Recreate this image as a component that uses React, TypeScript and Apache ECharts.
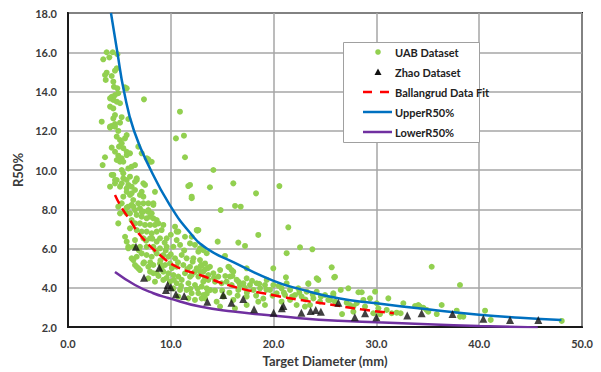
import React, { useEffect, useRef } from "react";
import * as echarts from "echarts";

const xTitle = "Target Diameter (mm)";
const yTitle = "R50%";
const seriesNames = ["UAB Dataset", "Zhao Dataset", "Ballangrud Data Fit", "UpperR50%", "LowerR50%"];

const uabData: number[][] = [
  [3.76,16.0],[4.35,16.0],[4.8,15.9],[3.43,15.64],[4.02,15.74],
  [4.74,15.18],[4.57,15.06],[3.76,14.96],[3.6,14.84],[4.25,14.79],[3.67,14.59],[4.41,14.5],[4.47,14.24],[4.8,14.16],[5.71,14.16],[5.54,14.21],
  [4.25,13.73],[4.41,13.57],[4.09,13.65],[4.57,13.82],[4.89,13.91],[4.74,13.48],[5.06,13.4],[4.09,13.23],[4.41,13.14],[7.39,13.6],
  [4.57,12.8],[4.41,12.63],[5.22,12.69],[5.87,12.6],[3.28,12.46],[4.25,12.24],[4.09,12.16],[4.57,12.34],[5.06,12.41],[10.89,12.97],
  [10.5,11.61],[11.28,11.75],[11.38,10.65],[7.81,10.54],[8.14,10.42],[3.37,10.25],
  [4.09,12.21],[4.57,12.21],[4.89,11.99],[4.74,11.7],[5.06,11.53],[5.22,11.36],[5.54,11.61],[5.71,11.78],[4.96,11.19],[5.38,11.11],
  [5.71,10.93],[4.25,11.14],[4.57,10.93],[4.89,10.73],[5.22,10.6],[5.06,10.42],[5.38,10.42],[4.74,10.51],[3.6,10.65],[5.71,10.76],
  [6.03,10.85],[6.84,11.19],[7.17,10.85],[7.66,10.6],[7.98,10.42],[6.19,10.17],[6.52,10.25],[5.87,10.08],[5.22,10.0],[4.41,9.75],
  [4.57,9.32],[4.09,9.15],[5.06,9.15],[4.74,9.49],[5.38,9.58],[5.71,9.49],[5.87,9.24],[6.19,9.15],[6.52,8.98],[5.71,8.89],
  [6.03,8.73],[5.38,8.64],[6.52,9.4],[6.68,9.58],[7.49,9.24],[7.17,8.89],[7.33,8.64],[8.46,8.89],[7.81,8.3],[8.3,8.22],
  [6.84,8.3],[6.35,8.47],[6.19,8.22],[5.87,8.13],[6.52,7.96],[7.17,7.87],[7.81,7.87],
  [4.25,9.75],[4.57,9.49],[5.22,9.32],[5.38,9.83],[6.03,9.66],[6.68,9.49],[7.33,9.32],[5.71,9.07],[6.19,8.81],[7.0,8.73],
  [7.33,8.3],[8.3,8.3],[7.98,7.62],[8.63,7.45],[5.22,8.3],[5.71,7.79],[4.89,7.28],[10.41,7.11],[10.57,6.43],[10.73,6.86],
  [11.7,9.18],[12.03,8.56],[12.52,6.94],
  [6.36,5.41],[7.0,4.9],[6.68,5.07],[5.87,6.01],[5.71,6.35],[7.81,4.48],[8.46,4.31],[8.3,4.74],
  [4.89,8.13],[5.71,8.08],[6.36,8.13],[7.0,8.05],[7.33,7.88],[7.81,7.96],[8.14,7.79],[8.3,7.54],[7.65,7.54],[7.17,7.62],
  [6.68,7.71],[6.03,7.79],[5.55,7.88],[5.06,7.79],[6.19,7.45],[6.52,7.28],[7.0,7.28],[7.49,7.2],[7.98,7.2],[8.46,7.2],
  [8.79,7.28],[9.27,7.2],[9.11,6.94],[8.63,6.86],[8.14,6.77],[7.65,6.86],[7.17,6.86],[6.68,6.94],[6.03,7.03],[5.55,6.6],
  [6.52,6.43],[7.33,6.52],[7.98,6.52],[8.63,6.35],[8.95,6.52],[9.6,6.52],[10.57,6.86],[11.38,6.6],[12.03,6.6],[12.68,6.94],
  [11.87,6.26],[12.35,6.18],[12.84,6.01],[13.16,5.92],[10.9,6.18],[10.25,6.09],[9.6,6.09],[8.95,6.01],[8.3,6.09],[7.65,6.09],
  [7.0,6.09],[6.36,6.09],[5.87,6.09],[6.19,5.5],[6.68,5.58],[7.17,5.75],[7.65,5.67],[8.14,5.58],[8.63,5.75],[9.27,5.67],
  [9.76,5.58],[10.41,5.5],[11.06,5.67],[11.54,5.5],[12.19,5.5],[12.84,5.41],[13.33,5.24],[6.52,5.16],[6.84,4.99],[7.33,5.24],
  [7.81,5.07],[8.3,5.16],[8.95,5.24],[9.44,5.16],[9.92,5.24],[10.57,5.07],[11.22,5.16],[11.87,5.07],[12.52,4.99],[13.16,4.82],
  [13.65,4.65],[7.98,4.82],[8.63,4.74],[9.27,4.82],[9.76,4.74],[10.25,4.65],[10.73,4.57],[11.38,4.74],[12.03,4.65],[12.68,4.57],
  [13.33,4.48],[9.27,4.4],[9.92,4.31],[10.57,4.23],[11.06,4.4],[11.71,4.23],[12.35,4.14],[13.0,4.06],[13.49,3.97],[10.25,3.97],
  [10.9,3.89],[11.54,3.89],[12.03,3.72],[12.68,3.72],[13.16,3.63],[10.73,3.55],[11.71,3.46],[12.35,3.38],[13.0,3.46],
  [11.87,9.24],[12.03,8.64],[13.81,9.12],[16.08,9.32],[18.29,8.81],[20.56,9.18],[14.14,10.0],[16.25,8.17],[16.8,8.13],[14.85,7.96],
  [12.58,6.91],[14.56,6.35],[16.57,6.3],[17.22,6.13],[18.51,6.69],[21.43,7.08],[21.27,5.76],[22.57,6.06],[23.77,5.96],[12.68,5.84],
  [13.49,5.76],[15.27,5.62],[12.13,5.33],[13.0,5.16],[13.33,4.94],[15.69,5.04],[15.92,4.9],[17.38,4.99],[19.97,4.99],[21.2,4.53],
  [25.65,5.04],[25.9,4.53],[24.19,4.48],[23.38,4.19],[11.87,4.56],
  [12.84,4.82],[13.81,5.07],[14.14,4.74],[13.65,4.4],[13.16,4.31],[14.3,4.31],[14.62,4.57],[14.95,4.23],[15.6,5.07],[16.08,4.82],
  [15.76,4.57],[15.43,4.31],[15.92,4.14],[16.41,4.4],[16.73,4.14],[16.57,3.89],[17.06,4.23],[17.38,4.48],[17.7,4.14],[18.03,3.89],
  [18.35,4.23],[18.68,3.97],[19.16,4.14],[19.33,4.4],[19.65,3.89],[19.97,4.14],[20.3,3.72],[20.78,3.97],[21.11,3.63],[21.27,4.23],
  [21.6,3.89],[22.08,3.63],[22.4,3.97],[22.73,3.55],[23.22,3.8],[23.38,4.23],[23.87,3.46],[24.19,3.8],[24.35,4.4],[24.51,3.29],
  [25.0,3.63],[25.32,3.38],[25.81,3.63],[14.46,3.29],[15.11,3.55],[14.79,3.04],[16.08,3.38],[17.38,3.55],[18.51,3.29],[19.16,3.12],
  [17.38,3.12],[16.24,2.95],[20.78,3.29],[21.6,3.38],[22.24,3.12],[23.05,3.04],[23.54,3.12],[13.33,3.46],[13.81,3.88],
  [25.97,4.56],[35.38,5.07],[38.13,4.14],[25.81,3.72],[26.53,3.89],[27.27,3.97],[28.25,3.77],[28.57,3.77],[29.87,3.8],[25.49,3.38],
  [25.97,3.29],[27.11,3.24],[27.44,3.12],[27.76,3.04],[28.08,3.21],[28.73,3.38],[29.38,3.46],[28.89,3.04],[30.03,3.21],[30.19,2.95],
  [29.7,2.7],[30.35,2.66],[26.66,2.66],[27.76,2.78],[31.16,3.46],[31.0,2.87],[31.49,2.7],[31.97,2.73],[32.36,2.7],[32.62,3.21],
  [33.76,3.07],[34.24,3.04],[34.57,2.98],[35.05,2.78],[35.87,2.66],[36.35,3.12],[37.81,2.83],[38.13,2.53],[38.46,2.53],[40.57,2.83],
  [41.12,2.36],[48.03,2.31],[34.08,3.12],[34.89,2.87],
  [8.5,5.9],[9.0,5.4],[9.5,5.9],[10.0,5.7],[10.7,5.3],[11.3,5.9],[11.6,4.95],[12.3,4.8],[12.9,5.1],[13.6,5.0],
  [14.2,4.5],[14.8,4.9],[15.3,4.6],[16.0,4.6],[16.6,4.3],[17.2,4.0],[17.9,4.35],[18.6,4.2],[19.3,3.9],[19.9,3.6],
  [20.5,4.1],[21.0,3.75],[21.8,3.55],[22.5,3.75],[23.1,3.4],[23.8,3.65],[24.6,3.55],[8.8,4.6],[9.6,4.5],[10.3,4.4],
  [11.0,4.1],[11.9,3.95],[12.6,3.95],[13.5,3.7],[14.3,3.85],[15.0,3.85],[15.7,3.75],[16.5,3.6],[17.4,3.75],[18.3,3.6],
  [19.0,3.45],[7.6,6.4],[8.2,6.5],[9.4,6.3],[10.0,6.7],[6.9,5.9],[7.4,5.3],[8.0,5.3],[9.1,5.0],[10.1,5.0]
];

const zhaoData: number[][] = [
  [6.61,6.09],[8.88,5.02],[7.39,4.51],[9.7,4.14],[10.0,4.02],[9.53,3.89],[10.5,3.67],[11.3,3.58],
  [13.55,3.29],[15.1,3.63],[15.9,3.24],[17.05,3.43],[18.1,2.9],[20.0,2.73],[20.8,2.95],[20.95,3.07],
  [22.7,2.73],[23.6,2.82],[24.1,2.87],[24.6,2.78],[26.3,3.24],[27.9,2.5],[28.9,2.7],[30.0,2.5],
  [33.0,2.58],[34.4,2.7],[37.4,2.66],[40.4,2.42],[43.0,2.36],[45.75,2.36]
];

const fitData: number[][] = [
  [4.57,8.73],[5.2,8.1],[6.03,7.45],[7.0,6.69],[8.95,5.67],[10.57,5.07],[12.84,4.65],
  [16.08,4.06],[20,3.62],[22.57,3.38],[25.81,3.12],[28.5,2.9],[31.7,2.7]
];

const upperData: number[][] = [
  [4.18,18],[4.8,16],[5.45,14],[6.42,12],[8.05,10],[9.92,8.2],[11.87,6.8],[13.5,6.0],
  [16.08,5.3],[20,4.35],[22.57,3.93],[26.3,3.46],[30,3.21],[35,2.9],[40,2.62],[44,2.47],[48,2.36]
];

const lowerData: number[][] = [
  [4.57,4.8],[6.52,4.14],[8.3,3.72],[9.76,3.48],[12.84,3.04],[16.08,2.79],[19.33,2.61],
  [22.57,2.45],[26.3,2.32],[30,2.24],[35,2.14],[40,2.05],[45.7,1.97]
];

const FONT = "Lato";
const LABEL_COLOR = "#3a3a3a";
const GREEN = "#92d050";
const BLACK = "#111111";
const RED = "#ff0000";
const BLUE = "#0070c0";
const PURPLE = "#7030a0";

function legendGraphic() {
  const bx = 343, by = 42, bw = 136, bh = 100;
  const ix0 = 363, ix1 = 392, icx = 378, tx = 395;
  const rowY = (i: number) => by + 10 + i * 20;
  const textEl = (i: number) => ({
    type: "text", x: tx, y: rowY(i), z: 101,
    style: { text: seriesNames[i], font: `bold 11px ${FONT}`, fill: "#222222", verticalAlign: "middle", align: "left" }
  });
  return [
    { type: "rect", z: 100, shape: { x: bx + 0.5, y: by + 0.5, width: bw, height: bh }, style: { fill: "#ffffff", stroke: "#a0a0a0", lineWidth: 1 } },
    { type: "circle", z: 101, shape: { cx: icx, cy: rowY(0), r: 2.8 }, style: { fill: GREEN } },
    { type: "polygon", z: 101, shape: { points: [[icx - 3.5, rowY(1) + 3], [icx + 3.5, rowY(1) + 3], [icx, rowY(1) - 3.5]] }, style: { fill: BLACK } },
    { type: "line", z: 101, shape: { x1: ix0, y1: rowY(2), x2: ix1, y2: rowY(2) }, style: { stroke: RED, lineWidth: 2.5, lineDash: [9, 8] } },
    { type: "line", z: 101, shape: { x1: ix0, y1: rowY(3), x2: ix1, y2: rowY(3) }, style: { stroke: BLUE, lineWidth: 2.5 } },
    { type: "line", z: 101, shape: { x1: ix0, y1: rowY(4), x2: ix1, y2: rowY(4) }, style: { stroke: PURPLE, lineWidth: 2.5 } },
    textEl(0), textEl(1), textEl(2), textEl(3), textEl(4)
  ];
}

export default function App() {
  const ref = useRef<HTMLDivElement>(null);
  useEffect(() => {
    const chart = echarts.init(ref.current!, null, { renderer: "svg" });
    chart.setOption({
      animation: false,
      backgroundColor: "#ffffff",
      grid: {
        left: 68, right: 19, top: 13, bottom: 45,
        show: true, borderColor: "#1a1a1a", borderWidth: 2, backgroundColor: "transparent"
      },
      graphic: legendGraphic(),
      xAxis: {
        type: "value", min: 0, max: 50, interval: 10,
        name: xTitle, nameLocation: "middle", nameGap: 27,
        nameTextStyle: { fontFamily: FONT, fontWeight: "bold", fontSize: 13, color: LABEL_COLOR },
        axisLine: { show: true, lineStyle: { color: "#1a1a1a", width: 2 } },
        axisTick: { show: false },
        axisLabel: { formatter: (v: number) => v.toFixed(1), fontFamily: FONT, fontWeight: "bold", fontSize: 11, color: LABEL_COLOR, margin: 11 },
        splitLine: { show: true, lineStyle: { color: "#a6a6a6", width: 1.5 } }
      },
      yAxis: {
        type: "value", min: 2, max: 18, interval: 2,
        name: yTitle, nameLocation: "middle", nameGap: 34,
        nameTextStyle: { fontFamily: FONT, fontWeight: "bold", fontSize: 13, color: LABEL_COLOR },
        axisLine: { show: true, lineStyle: { color: "#1a1a1a", width: 2 } },
        axisTick: { show: false },
        axisLabel: { formatter: (v: number) => v.toFixed(1), fontFamily: FONT, fontWeight: "bold", fontSize: 11, color: LABEL_COLOR, margin: 11 },
        splitLine: { show: true, lineStyle: { color: "#a6a6a6", width: 1.5 } }
      },
      series: [
        {
          name: seriesNames[0], type: "scatter", data: uabData, symbol: "circle", symbolSize: 6,
          itemStyle: { color: GREEN, opacity: 1 }, z: 2
        },
        {
          name: seriesNames[1], type: "scatter", data: zhaoData, symbol: "triangle", symbolSize: 8,
          itemStyle: { color: BLACK }, z: 6
        },
        {
          name: seriesNames[2], type: "line", data: fitData, smooth: true, symbol: "none",
          lineStyle: { color: RED, width: 2.5, type: [10, 5] }, itemStyle: { color: RED }, z: 4
        },
        {
          name: seriesNames[3], type: "line", data: upperData, smooth: true, symbol: "none",
          lineStyle: { color: BLUE, width: 2.5 }, itemStyle: { color: BLUE }, z: 4
        },
        {
          name: seriesNames[4], type: "line", data: lowerData, smooth: true, symbol: "none",
          lineStyle: { color: PURPLE, width: 2.5 }, itemStyle: { color: PURPLE }, z: 4
        }
      ]
    });
    return () => chart.dispose();
  }, []);
  return <div ref={ref} style={{ position: "fixed", left: 0, top: 0, width: 601, height: 372 }} />;
}
